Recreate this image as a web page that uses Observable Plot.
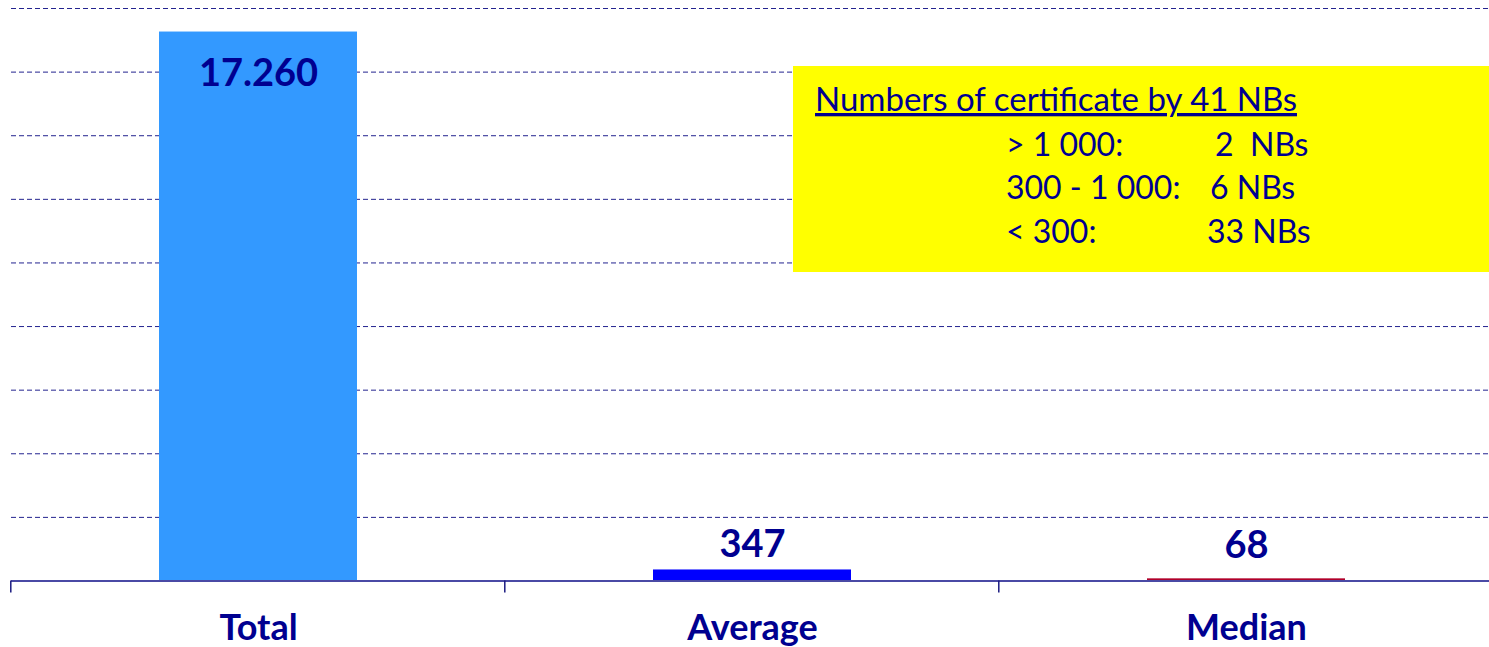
<!DOCTYPE html>
<html><head><meta charset="utf-8">
<script src="https://cdn.jsdelivr.net/npm/d3@7"></script>
<script src="https://cdn.jsdelivr.net/npm/@observablehq/plot@0.6"></script>
<style>
html,body{margin:0;padding:0;background:#fff;}
#wrap{position:relative;width:1489px;height:647px;overflow:hidden;}
</style></head><body><div id="wrap"></div>
<script>
const categories = ["Total", "Average", "Median"];
const values = [17260, 347, 68];
const valueLabels = ["17.260", "347", "68"];
const barColors = ["#3399ff", "#0000ff", "#b0002a"];
const gridTicks = [2000, 4000, 6000, 8000, 10000, 12000, 14000, 16000, 18000];
const boxTitle = "Numbers of certificate by 41 NBs";
const boxRanges = ["> 1 000:", "300 - 1 000:", "< 300:"];
const boxCounts = ["2  NBs", "6 NBs", "33 NBs"];

const navy = "#000090";
const font = "Lato, 'Open Sans', sans-serif";
const data = categories.map((c, i) => ({cat: c, value: values[i], label: valueLabels[i], color: barColors[i]}));

const plot = Plot.plot({
  width: 1489, height: 647,
  marginLeft: 11, marginRight: 0, marginTop: 8, marginBottom: 66.5,
  style: {fontFamily: font, background: "#fff"},
  x: {domain: categories, range: [11, 1493], paddingInner: 0.6, paddingOuter: 0.3, label: null},
  y: {domain: [0, 18000], axis: null},
  color: {type: "identity"},
  marks: [
    Plot.ruleY(gridTicks, {stroke: "#23238f", strokeWidth: 1, strokeDasharray: "5,3"}),
    Plot.barY(data, {x: "cat", y: "value", fill: "color"}),
    Plot.ruleY([0], {stroke: "#4a4aa5", strokeWidth: 2}),
    Plot.text(data.filter(d => d.value > 5000), {x: "cat", y: "value", text: "label", lineAnchor: "top", dy: 27, fill: navy, fontSize: 38, fontWeight: "bold"}),
    Plot.text(data.filter(d => d.value <= 5000 && d.value > 200), {x: "cat", y: "value", text: "label", lineAnchor: "bottom", dy: -13, fill: navy, fontSize: 38, fontWeight: "bold"}),
    Plot.text(data.filter(d => d.value <= 200), {x: "cat", y: "value", text: "label", lineAnchor: "bottom", dy: -21, fill: navy, fontSize: 38, fontWeight: "bold"}),
    Plot.axisX({tickSize: 0, tickPadding: 33, fontSize: 36, fontWeight: "bold", fill: navy, label: null})
  ]
});
document.getElementById("wrap").appendChild(plot);

const svg = d3.select(plot);

// category boundary ticks
const xs = plot.scale("x");
const step = xs.step;
const pad = (xs.paddingInner ?? 0.6) * step / 2;
const firstStart = xs.apply ? xs.apply(categories[0]) : xs.range[0] + (xs.paddingOuter ?? 0.3) * step;
const yBase = plot.scale("y").apply ? plot.scale("y").apply(0) : 580.5;
const bounds = d3.range(categories.length + 1).map(i => firstStart - pad + i * step);
svg.append("g").selectAll("line").data(bounds).join("line")
  .attr("x1", d => d).attr("x2", d => d)
  .attr("y1", yBase).attr("y2", yBase + 12)
  .attr("stroke", "#1a1a80").attr("stroke-width", 1.5);

// annotation box
const g = svg.append("g").attr("font-family", font).attr("fill", navy).attr("font-size", 32).attr("text-anchor", "start");
g.append("rect").attr("x", 793).attr("y", 66).attr("width", 700).attr("height", 206).attr("fill", "#ffff00");
g.append("text").attr("x", 815).attr("y", 111).attr("font-size", 33).attr("text-decoration", "underline").text(boxTitle);
const rowY = [156, 199, 243];
const countX = [1215, 1210, 1207];
boxRanges.forEach((r, i) => {
  g.append("text").attr("x", 1006).attr("y", rowY[i]).text(r);
  g.append("text").attr("x", countX[i]).attr("y", rowY[i]).attr("xml:space", "preserve").style("white-space", "pre").text(boxCounts[i]);
});
</script></body></html>
